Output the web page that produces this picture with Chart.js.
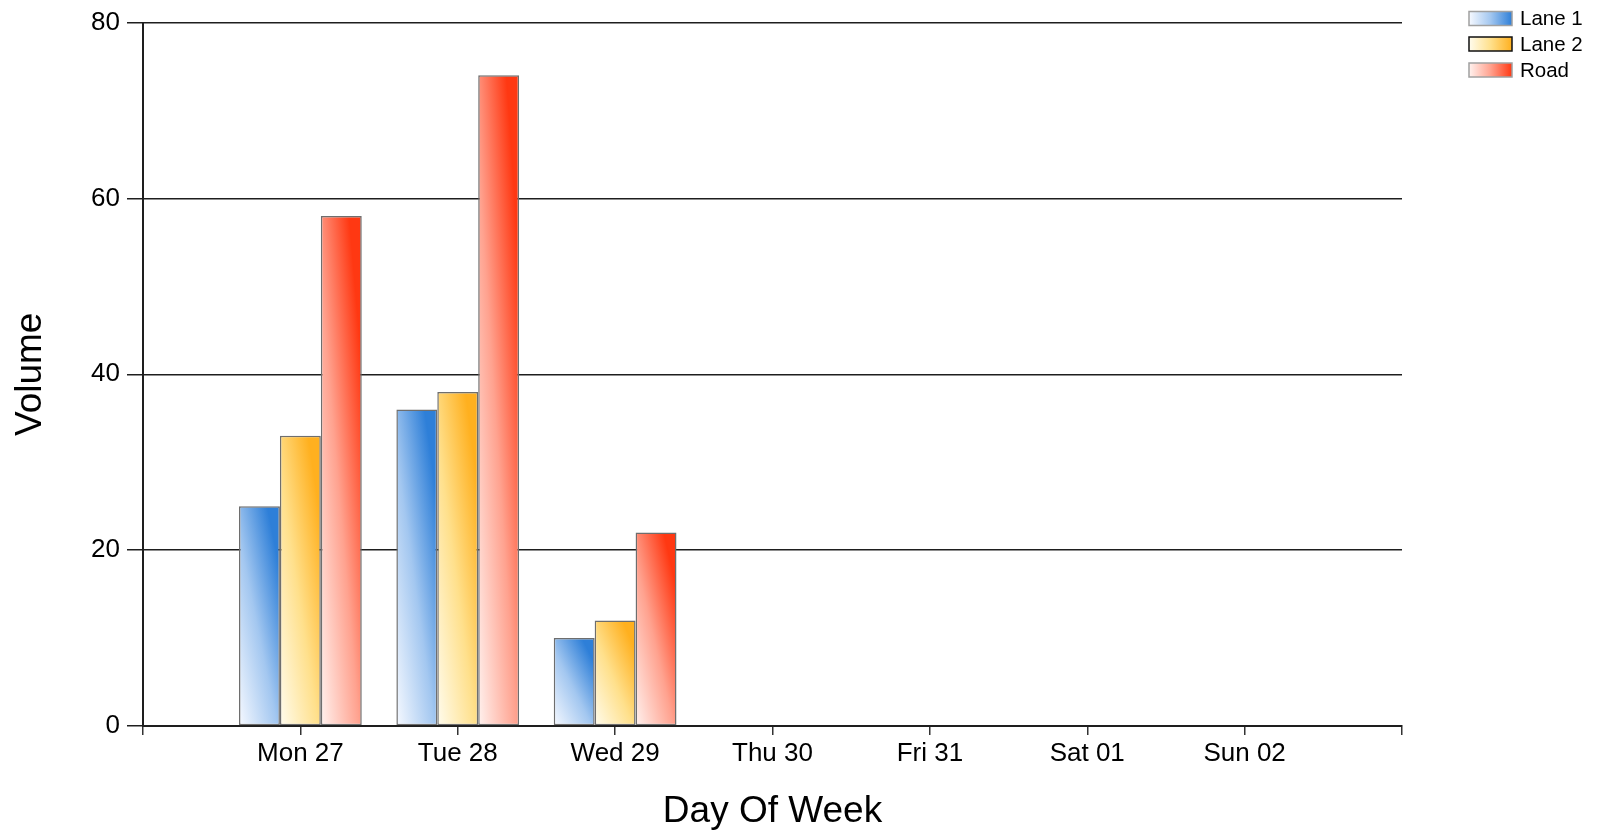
<!DOCTYPE html>
<html>
<head>
<meta charset="utf-8">
<script src="https://cdn.jsdelivr.net/npm/chart.js@4.4.1/dist/chart.umd.min.js"></script>
<style>
  html, body { margin: 0; padding: 0; background: #fff; }
  canvas { display: block; }
</style>
</head>
<body>
<canvas id="volumeChart" width="1602" height="834"></canvas>
<script>
// values
const days = ['Mon 27', 'Tue 28', 'Wed 29', 'Thu 30', 'Fri 31', 'Sat 01', 'Sun 02'];
const lane1 = [25, 36, 10, null, null, null, null];
const lane2 = [33, 38, 12, null, null, null, null];
const road = [58, 74, 22, null, null, null, null];
const seriesNames = ['Lane 1', 'Lane 2', 'Road'];
const yMin = 0, yMax = 80, yStep = 20;

const FONT = "'Liberation Sans', Arial, sans-serif";
const CAT_PCT = 0.78;

// light -> mid -> dark for each series
const shades = [
  ['#f6f9ff', '#a3c7f0', '#2e7fd8'],
  ['#fffcee', '#ffe08c', '#ffb01f'],
  ['#fff2ef', '#ffa28f', '#ff3812']
];
const legendBorders = ['#a0a0a0', '#111111', '#a0a0a0'];

// one empty slot either side of the week, like the original axis
const axisLabels = [''].concat(days, ['']);
const pad = arr => [null].concat(arr, [null]);

// diagonal shading: lighter at bottom-left, saturated at top-right
function barGradient(ctx) {
  const chart = ctx.chart;
  const c = chart.ctx;
  const xs = chart.scales.x, ys = chart.scales.y;
  const s = shades[ctx.datasetIndex];
  if (!xs || !ys || ctx.parsed == null || ctx.parsed.y == null) return s[1];
  const step = xs.getPixelForValue(1) - xs.getPixelForValue(0);
  const size = step * CAT_PCT;
  const chunk = size / chart.data.datasets.length;
  const left = xs.getPixelForValue(ctx.dataIndex) - size / 2 + chunk * ctx.datasetIndex;
  const base = ys.getPixelForValue(0);
  const h = Math.max(1, base - ys.getPixelForValue(ctx.parsed.y));
  const wx = 0.48, wy = 0.52;
  const len2 = 1 / (wx * wx / (chunk * chunk) + wy * wy / (h * h));
  const vx = wx * len2 / chunk, vy = -wy * len2 / h;
  const g = c.createLinearGradient(left, base, left + vx, base + vy);
  g.addColorStop(0, s[0]);
  g.addColorStop(0.45, s[1]);
  g.addColorStop(0.85, s[2]);
  g.addColorStop(1, s[2]);
  return g;
}

const legendPlugin = {
  id: 'cornerLegend',
  afterDraw(chart) {
    const c = chart.ctx;
    const x0 = 1469, boxW = 43, boxH = 14;
    const rows = [18.5, 44, 70];
    c.save();
    chart.data.datasets.forEach((ds, i) => {
      const y = rows[i];
      const g = c.createLinearGradient(x0, 0, x0 + boxW, 0);
      g.addColorStop(0, shades[i][0]);
      g.addColorStop(0.5, shades[i][1]);
      g.addColorStop(1, shades[i][2]);
      c.fillStyle = g;
      c.fillRect(x0, y - boxH / 2, boxW, boxH);
      c.strokeStyle = legendBorders[i];
      c.lineWidth = 1.5;
      c.strokeRect(x0, y - boxH / 2, boxW, boxH);
      c.fillStyle = '#000';
      c.font = '20.5px ' + FONT;
      c.textBaseline = 'middle';
      c.textAlign = 'left';
      c.fillText(ds.label, x0 + 51, y + 1);
    });
    c.restore();
  }
};

new Chart(document.getElementById('volumeChart'), {
  type: 'bar',
  data: {
    labels: axisLabels,
    datasets: [lane1, lane2, road].map((vals, i) => ({
      label: seriesNames[i],
      data: pad(vals),
      backgroundColor: barGradient,
      borderColor: '#6e6e6e',
      borderWidth: 1.5,
      borderSkipped: false,
      categoryPercentage: CAT_PCT,
      barPercentage: 1
    }))
  },
  options: {
    responsive: false,
    devicePixelRatio: 1,
    animation: false,
    events: [],
    layout: { padding: { top: 21, right: 200, left: 0, bottom: 0 } },
    plugins: {
      legend: { display: false },
      tooltip: { enabled: false }
    },
    scales: {
      x: {
        type: 'category',
        offset: false,
        grid: { offset: false, drawOnChartArea: false, drawTicks: true, tickLength: 9, color: '#333', lineWidth: 1.5 },
        border: { color: '#1e1e1e', width: 2 },
        ticks: { color: '#000', font: { family: FONT, size: 26 }, padding: 3, autoSkip: false, maxRotation: 0, minRotation: 0 },
        title: { display: true, text: 'Day Of Week', color: '#000', font: { family: FONT, size: 37 }, padding: { top: 0, bottom: 0 } },
        afterFit: s => { s.height = 108; }
      },
      y: {
        min: yMin,
        max: yMax,
        grid: { color: '#1e1e1e', lineWidth: 1.5, tickLength: 16 },
        border: { color: '#1e1e1e', width: 2 },
        ticks: { stepSize: yStep, color: '#000', font: { family: FONT, size: 26 }, padding: 7 },
        title: { display: true, text: 'Volume', color: '#000', font: { family: FONT, size: 37 }, padding: { top: 9, bottom: 0 } },
        afterFit: s => { s.width = 143; }
      }
    }
  },
  plugins: [legendPlugin]
});
</script>
</body>
</html>
